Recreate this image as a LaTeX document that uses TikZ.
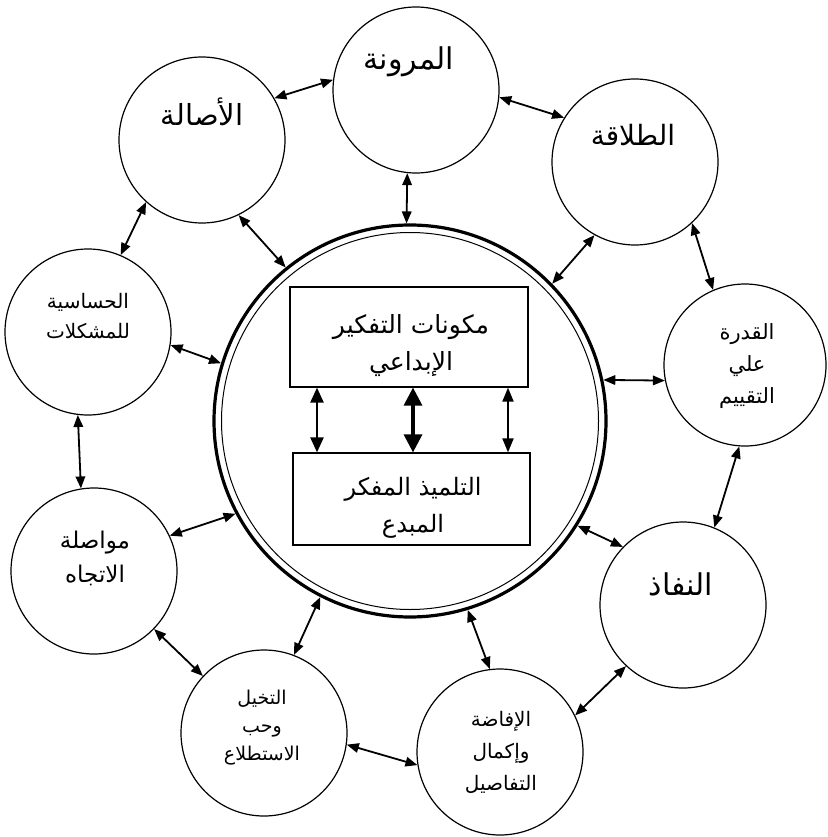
\documentclass[tikz,border=0pt]{standalone}
\usepackage{fontspec}
\newfontfamily\arabicfont[Script=Arabic]{DejaVu Sans}
\TeXXeTstate=1
\usetikzlibrary{arrows.meta}
\newcommand{\ar}[1]{\beginR #1\endR}
\begin{document}
\begin{tikzpicture}[x=1pt,y=-1pt,
  ring/.style={circle, draw, line width=1.2pt, minimum size=166pt, inner sep=0pt},
  lbl/.style 2 args={font=\arabicfont\fontsize{#1}{#2}\selectfont, align=center, inner sep=0pt},
  arr/.style={{Triangle[length=12pt,width=9.5pt]}-{Triangle[length=12pt,width=9.5pt]}, line width=1.8pt},
  box/.style={draw, line width=1.2pt, inner sep=0pt}
]
\useasboundingbox (0,0) rectangle (827,837);
\fill[white] (0,0) rectangle (827,837);

% central double circle
\node[circle, draw, line width=3.2pt, minimum size=392pt, inner sep=0pt] (core) at (410,421) {};
\node[circle, draw, line width=1pt, minimum size=377pt, inner sep=0pt] (coreIn) at (410,421) {};

% boxes
\node[box, minimum width=238pt, minimum height=100pt] (top) at (409,337) {};
\node[box, minimum width=237pt, minimum height=92pt] (bot) at (411.5,499) {};
\node[lbl={25}{37}] (topT) at (411,346) {\ar{مكونات التفكير}\\\ar{الإبداعي}};
\node[lbl={24}{37}] (botT) at (413,508) {\ar{التلميذ المفكر}\\\ar{المبدع}};

\coordinate (xl) at (317,0);
\coordinate (xm) at (413,0);
\coordinate (xr) at (508,0);
\draw[{Triangle[length=15pt,width=13pt]}-{Triangle[length=15pt,width=13pt]}, line width=2.4pt] (xl |- top.south) -- (xl |- bot.north);
\draw[{Triangle[length=18pt,width=18pt]}-{Triangle[length=18pt,width=18pt]}, line width=3.2pt] (xm |- top.south) -- (xm |- bot.north);
\draw[{Triangle[length=14pt,width=11pt]}-{Triangle[length=14pt,width=11pt]}, line width=1.9pt] (xr |- top.south) -- (xr |- bot.north);

% outer circles
\node[ring] (muruna) at (416,90) {};
\node[ring] (asala) at (202,140) {};
\node[ring] (talaqa) at (635,162) {};
\node[ring] (hass) at (88,332) {};
\node[ring, minimum size=162pt] (qudra) at (745,365) {};
\node[ring] (muwas) at (94,571) {};
\node[ring] (nafaz) at (683,605) {};
\node[ring] (takh) at (264,733) {};
\node[ring] (ifada) at (500,752) {};

% labels
\node[lbl={30}{34}] (murunaT) at (409,62) {\ar{المرونة}};
\node[lbl={29}{34}] (asalaT) at (202,112) {\ar{الأصالة}};
\node[lbl={28}{34}] (talaqaT) at (633,135) {\ar{الطلاقة}};
\node[lbl={20}{30}] (hassT) at (88,316) {\ar{الحساسية}\\\ar{للمشكلات}};
\node[lbl={21}{32}] (qudraT) at (747,366) {\ar{القدرة}\\\ar{علي}\\\ar{التقييم}};
\node[lbl={23}{34}] (muwasT) at (95,558) {\ar{مواصلة}\\\ar{الاتجاه}};
\node[lbl={30}{34}] (nafazT) at (681,584) {\ar{النفاذ}};
\node[lbl={19}{28}] (takhT) at (262,728) {\ar{التخيل}\\\ar{وحب}\\\ar{الاستطلاع}};
\node[lbl={20}{32}] (ifadaT) at (501,752) {\ar{الإفاضة}\\\ar{وإكمال}\\\ar{التفاصيل}};

% connectors
\draw[arr] (asala.30) -- (muruna.173);
\draw[arr] (muruna.355) -- (talaqa.148);
\draw[arr] (muruna.264) -- (core.91);
\draw[arr] (asala.296) -- (core.129);
\draw[arr] (talaqa.241) -- (core.44);
\draw[arr] (talaqa.313) -- (qudra.113);
\draw[arr] (core.12) -- (qudra.191);
\draw[arr] (qudra.266) -- (nafaz.68);
\draw[arr] (core.328) -- (nafaz.136);
\draw[arr] (core.287) -- (ifada.97);
\draw[arr] (nafaz.227) -- (ifada.26);
\draw[arr] (takh.352) -- (ifada.189);
\draw[arr] (takh.69) -- (core.243);
\draw[arr] (muwas.316) -- (takh.137);
\draw[arr] (muwas.25) -- (core.208);
\draw[arr] (hass.263) -- (muwas.99);
\draw[arr] (hass.351) -- (core.163);
\draw[arr] (asala.228) -- (hass.67);
\end{tikzpicture}
\end{document}
